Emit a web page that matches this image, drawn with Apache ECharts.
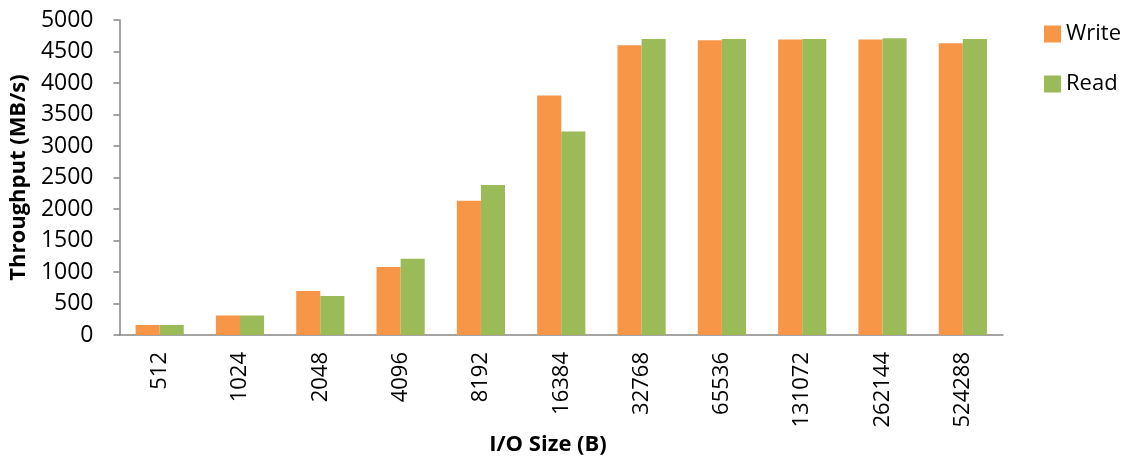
<!DOCTYPE html>
<html>
<head>
<meta charset="utf-8">
<script src="https://cdn.jsdelivr.net/npm/echarts@6/dist/echarts.min.js"></script>
<style>
  html, body { margin: 0; padding: 0; background: #fff; }
  #chart { width: 1127px; height: 457px; }
</style>
</head>
<body>
<div id="chart"></div>
<script>
// I/O sizes in bytes
const ioSizes = ['512', '1024', '2048', '4096', '8192', '16384', '32768', '65536', '131072', '262144', '524288'];
// Throughput in MB/s
const writeMBs = [160, 310, 700, 1080, 2130, 3800, 4600, 4680, 4690, 4690, 4630];
const readMBs  = [160, 310, 620, 1210, 2380, 3230, 4700, 4700, 4700, 4710, 4700];

const axisGray = '#868686';
const chart = echarts.init(document.getElementById('chart'), null, { renderer: 'canvas' });

chart.setOption({
  animation: false,
  backgroundColor: '#ffffff',
  textStyle: { fontFamily: 'Open Sans' },
  title: [{
    text: 'I/O Size (B)',
    left: 543,
    top: 429,
    textAlign: 'center',
    textStyle: { fontFamily: 'Open Sans', fontWeight: 'bold', fontSize: 22, color: '#000' }
  }],
  legend: {
    orient: 'vertical',
    left: 1039,
    top: 18,
    itemWidth: 17,
    itemHeight: 17,
    itemGap: 28,
    icon: 'rect',
    textStyle: { fontFamily: 'Open Sans', fontSize: 22, lineHeight: 22, color: '#000' },
    data: ['Write', 'Read']
  },
  grid: { left: 119, right: 124, top: 20, bottom: 122, containLabel: false },
  xAxis: {
    type: 'category',
    data: ioSizes,
    axisLine: { lineStyle: { color: axisGray, width: 1.5 } },
    axisTick: { alignWithLabel: true, length: 6, lineStyle: { color: axisGray, width: 1.5 } },
    axisLabel: {
      rotate: 90,
      margin: 17,
      fontFamily: 'Open Sans',
      fontSize: 22,
      color: '#000'
    }
  },
  yAxis: {
    type: 'value',
    min: 0,
    max: 5000,
    interval: 500,
    name: 'Throughput (MB/s)',
    nameLocation: 'middle',
    nameGap: 89,
    nameTextStyle: { fontFamily: 'Open Sans', fontWeight: 'bold', fontSize: 22, color: '#000' },
    axisLine: { show: true, lineStyle: { color: axisGray, width: 1.5 } },
    axisTick: { show: true, inside: false, length: 6, lineStyle: { color: axisGray, width: 1.5 } },
    splitLine: { show: false },
    axisLabel: {
      margin: 26,
      fontFamily: 'Open Sans',
      fontSize: 23,
      color: '#000',
      formatter: v => String(v)
    }
  },
  series: [
    {
      name: 'Write',
      type: 'bar',
      data: writeMBs,
      barGap: '0%',
      barCategoryGap: '40%',
      itemStyle: { color: '#F79646' }
    },
    {
      name: 'Read',
      type: 'bar',
      data: readMBs,
      barGap: '0%',
      barCategoryGap: '40%',
      itemStyle: { color: '#9BBB59' }
    }
  ]
});
</script>
</body>
</html>
